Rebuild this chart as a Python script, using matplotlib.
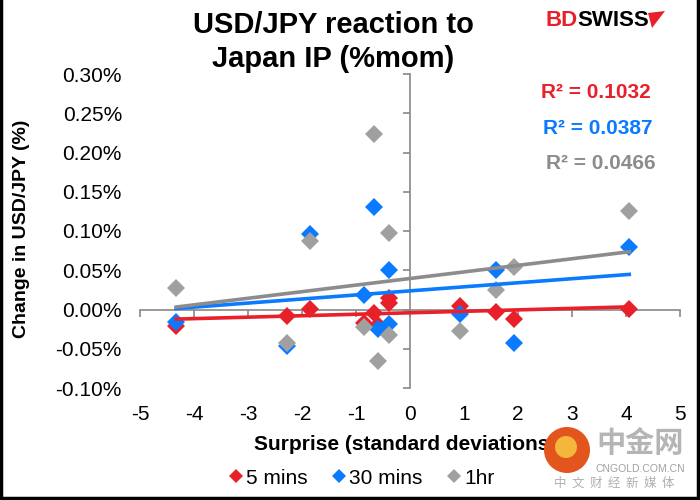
import matplotlib
matplotlib.use("Agg")
import matplotlib.pyplot as plt
import numpy as np
from matplotlib.lines import Line2D
from matplotlib.patches import Ellipse, Polygon

plt.rcParams['font.family'] = ['Liberation Sans', 'Noto Sans CJK SC', 'DejaVu Sans']

# surprise (standard deviations) for each release
surprise = [-4.33, -2.27, -1.86, -0.85, -0.67, -0.60, -0.38, -0.38, 0.935, 1.586, 1.93, 4.06]
# USD/JPY change (%) after each release
chg_5min = [-0.021, -0.008, 0.001, -0.017, -0.005, -0.020, 0.015, 0.008, 0.005, -0.003, -0.0115, 0.001]
chg_30min = [-0.016, -0.046, 0.096, 0.019, 0.131, -0.025, 0.050, -0.019, -0.006, 0.050, -0.043, 0.079]
chg_1hr = [0.027, -0.043, 0.087, -0.022, 0.224, -0.066, 0.098, -0.032, -0.028, 0.025, 0.054, 0.126]

series_names = ["5 mins", "30 mins", "1hr"]
r2_labels = ["R² = 0.1032", "R² = 0.0387", "R² = 0.0466"]
x_ticks = [-5, -4, -3, -2, -1, 0, 1, 2, 3, 4, 5]
y_ticks = [-0.10, -0.05, 0.00, 0.05, 0.10, 0.15, 0.20, 0.25, 0.30]

red = "#E8202A"
blue = "#0A7BFF"
gray = "#A0A0A0"
trend_colors = [red, blue, "#8C8C8C"]
colors = [red, blue, gray]

fig = plt.figure(figsize=(7, 5), dpi=100)
pos = [140 / 700, 112 / 500, 540 / 700, 314 / 500]

# axis lines crossing at zero (drawn behind the data)
ax_bg = fig.add_axes(pos)
ax_bg.set_xlim(-5, 5)
ax_bg.set_ylim(-0.10, 0.30)
ax_bg.set_xticks(x_ticks)
ax_bg.set_yticks(y_ticks)
ax_bg.spines["left"].set_position(("data", 0))
ax_bg.spines["bottom"].set_position(("data", 0))
ax_bg.spines["top"].set_visible(False)
ax_bg.spines["right"].set_visible(False)
for s in ["left", "bottom"]:
    ax_bg.spines[s].set_color("#888888")
    ax_bg.spines[s].set_linewidth(1.2)
ax_bg.tick_params(direction="out", length=5, width=1.2, color="#888888",
                  labelleft=False, labelbottom=False)

# data axes with tick labels at the outer edges
ax = fig.add_axes(pos)
ax.patch.set_visible(False)
ax.set_xlim(-5, 5)
ax.set_ylim(-0.10, 0.30)
ax.set_xticks(x_ticks)
ax.set_yticks(y_ticks)
ax.set_xticklabels([str(t) for t in x_ticks])
ax.set_yticklabels([f"{t:.2f}%" for t in y_ticks])
for s in ax.spines.values():
    s.set_visible(False)
ax.tick_params(length=0, labelsize=15)
ax.tick_params(axis="x", pad=12)
ax.tick_params(axis="y", pad=13)

x = np.array(surprise)
all_series = [chg_5min, chg_30min, chg_1hr]
for ys, c in zip(all_series, colors):
    ax.plot(x, ys, linestyle="none", marker="D", markersize=9, color=c,
            markeredgewidth=0, zorder=3)

for ys, c in zip(all_series, trend_colors):
    slope, icpt = np.polyfit(x, ys, 1)
    xx = np.array([x.min(), x.max()])
    ax.plot(xx, slope * xx + icpt, color=c, linewidth=2.6, zorder=4)

r2_pos = [(541, 93), (543, 128), (546, 163)]
for lab, c, (px, py) in zip(r2_labels, trend_colors, r2_pos):
    fig.text(px / 700, 1 - py / 500, lab, color=c, fontsize=15,
             fontweight="bold", ha="left", va="center")

fig.text(333 / 700, 1 - 42 / 500, "USD/JPY reaction to\nJapan IP (%mom)",
         ha="center", va="center", fontsize=21, fontweight="bold", linespacing=1.3)

fig.text(22 / 700, 1 - 229 / 500, "Change in USD/JPY (%)", rotation=90,
         ha="center", va="center", fontsize=14, fontweight="bold")
fig.text(405 / 700, 1 - 445 / 500, "Surprise (standard deviations)",
         ha="center", va="center", fontsize=15, fontweight="bold")

handles = [Line2D([], [], linestyle="none", marker="D", markersize=7,
                  color=c, markeredgewidth=0) for c in colors]
fig.legend(handles, series_names, loc="center", bbox_to_anchor=(360 / 700, 1 - 478 / 500),
           ncol=3, frameon=False, fontsize=15, handletextpad=0.0,
           columnspacing=1.0, handlelength=1.0)

# brand logo, top right
fig.text(578 / 700, 1 - 20 / 500, "BD", color=red, fontsize=16,
         fontweight="bold", ha="right", va="center")
fig.text(577 / 700, 1 - 20 / 500, "SWISS", color="black", fontsize=16,
         fontweight="bold", ha="left", va="center")
fig.add_artist(Polygon([[648 / 700, 1 - 13 / 500], [665 / 700, 1 - 11 / 500],
                        [652 / 700, 1 - 28 / 500]], closed=True,
                       transform=fig.transFigure, facecolor=red, edgecolor="none"))

# watermark, bottom right
fig.add_artist(Ellipse((567 / 700, 1 - 450 / 500), 46 / 700, 46 / 500,
                       transform=fig.transFigure, facecolor="#E2561E",
                       edgecolor="none", zorder=5))
fig.add_artist(Ellipse((566 / 700, 1 - 447 / 500), 22 / 700, 22 / 500,
                       transform=fig.transFigure, facecolor="#F5B73B",
                       edgecolor="none", zorder=6))
fig.text(640 / 700, 1 - 443 / 500, "中金网", color="#B5B5B5", fontsize=21,
         fontweight="bold", ha="center", va="center",
         family=["Noto Sans CJK SC", "DejaVu Sans"], zorder=5)
fig.text(640 / 700, 1 - 469 / 500, "CNGOLD.COM.CN", color="#A0A0A0", fontsize=7.5,
         ha="center", va="center", zorder=5)
fig.text(614 / 700, 1 - 483 / 500, "中  文  财  经  新  媒  体", color="#B0B0B0",
         fontsize=9, ha="center", va="center",
         family=["Noto Sans CJK SC", "DejaVu Sans"], zorder=5)

# chart border
for xs, ys in [([0.002, 0.002], [0, 1]), ([0.997, 0.997], [0, 1]), ([0, 1], [0.005, 0.005])]:
    fig.add_artist(Line2D(xs, ys, transform=fig.transFigure, color="black", linewidth=2.5))

fig.savefig("out.png", dpi=100)
